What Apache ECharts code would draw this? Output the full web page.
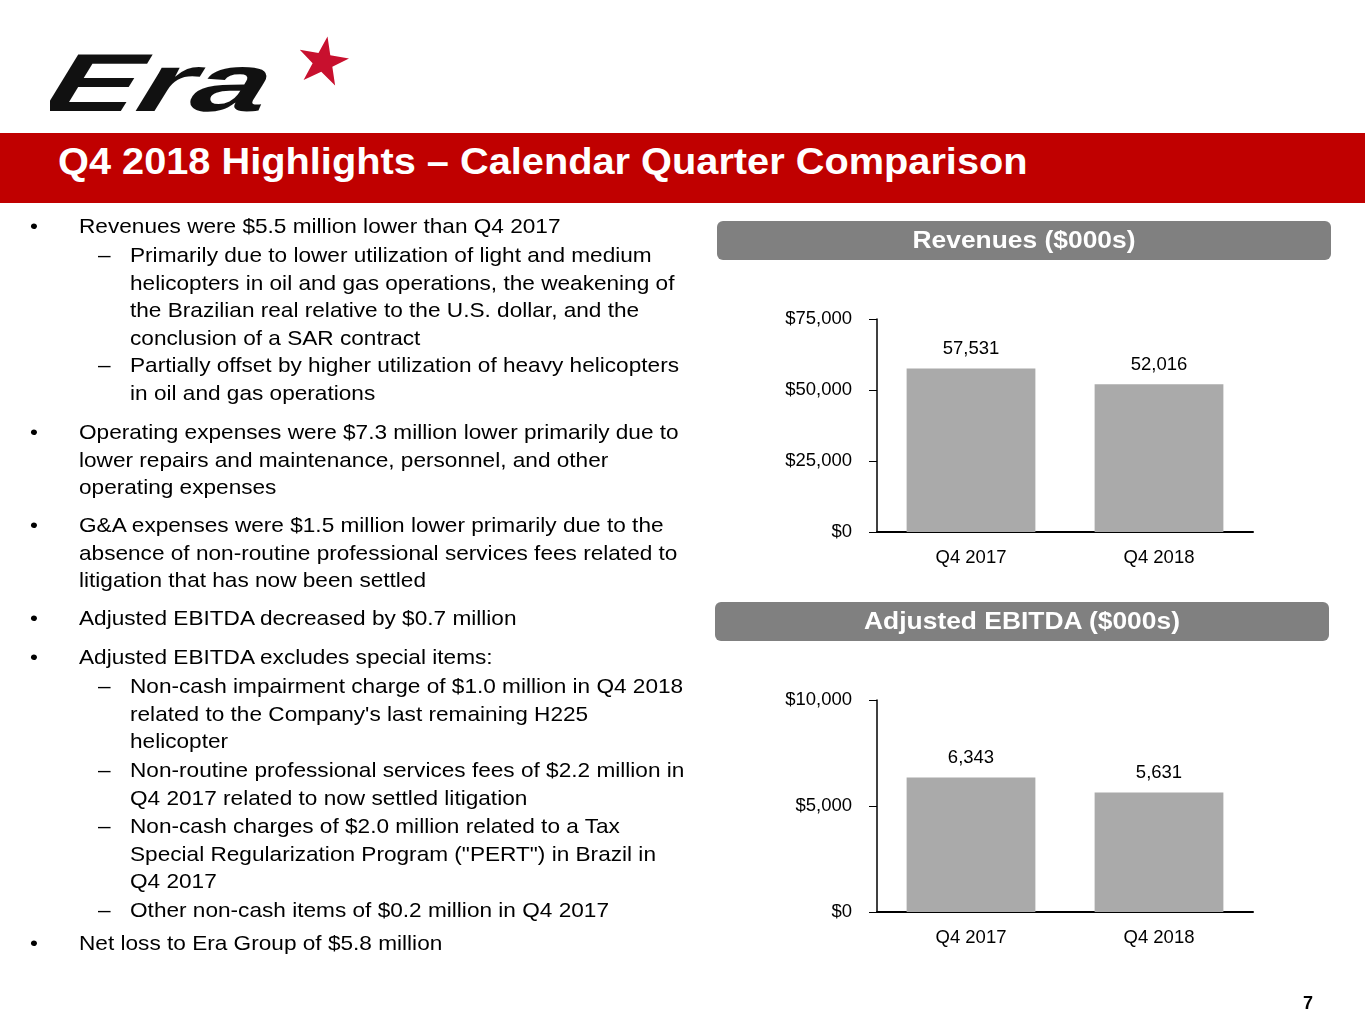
<!DOCTYPE html>
<html>
<head>
<meta charset="utf-8">
<script src="https://cdn.jsdelivr.net/npm/echarts@6/dist/echarts.min.js"></script>
<style>
  html, body { margin:0; padding:0; background:#fff; }
  body { width:1365px; height:1024px; position:relative; overflow:hidden; font-family:"Liberation Sans", Arial, sans-serif; color:#000; }
  #chart { position:absolute; left:0; top:0; width:1365px; height:1024px; }
  .banner { position:absolute; left:0; top:133px; width:1365px; height:70px; background:#C00000; }
  .title { position:absolute; left:58px; top:133px; height:70px; line-height:58px; color:#fff; font-weight:bold; font-size:36px; white-space:nowrap; transform:scaleX(1.104); transform-origin:0 0; }
  .pill { position:absolute; height:39px; background:#808080; border-radius:6px; }
  .pilltxt { position:absolute; left:0; right:0; top:0; color:#fff; font-weight:bold; font-size:24px; text-align:center; line-height:37px; transform:scaleX(1.1); }
  .para { position:absolute; font-size:21px; line-height:27.6px; white-space:nowrap; transform:scaleX(1.077); transform-origin:0 0; }
  .pnum { position:absolute; left:1303px; top:993px; font-weight:bold; font-size:18px; }
  .logo { position:absolute; left:50px; top:25px; }
</style>
</head>
<body>
<div id="chart"></div>

<svg class="logo" width="320" height="100" viewBox="0 0 320 100">
  <text x="16" y="86" font-family="Liberation Sans, Arial" font-style="italic" font-weight="bold" font-size="82" fill="#111" transform="skewX(-16)" textLength="222" lengthAdjust="spacingAndGlyphs">Era</text>
  <polygon fill="#C8102E" transform="translate(273,37) rotate(10)" points="0,-26 6,-8 25,-8 10,3 16,21 0,10 -16,21 -10,3 -25,-8 -6,-8"/>
</svg>

<div class="banner"></div>
<div class="title">Q4 2018 Highlights – Calendar Quarter Comparison</div>

<div class="pill" style="left:717px; top:221px; width:614px;"><div class="pilltxt">Revenues ($000s)</div></div>
<div class="pill" style="left:715px; top:602px; width:614px;"><div class="pilltxt">Adjusted EBITDA ($000s)</div></div>

<div id="text"></div>
<div class="pnum">7</div>

<script>
// ---- Data ----
const categories = ['Q4 2017', 'Q4 2018'];
const revenues = [57531, 52016];
const adjustedEbitda = [6343, 5631];
const revenueTicks = { min: 0, max: 75000, interval: 25000 };
const ebitdaTicks = { min: 0, max: 10000, interval: 5000 };

// ---- Slide text ----
const bullets = [
  { y: 226, kind: 'bul', lines: ['Revenues were $5.5 million lower than Q4 2017'] },
  { y: 255, kind: 'dash', lines: ['Primarily due to lower utilization of light and medium', 'helicopters in oil and gas operations, the weakening of', 'the Brazilian real relative to the U.S. dollar, and the', 'conclusion of a SAR contract'] },
  { y: 365, kind: 'dash', lines: ['Partially offset by higher utilization of heavy helicopters', 'in oil and gas operations'] },
  { y: 432, kind: 'bul', lines: ['Operating expenses were $7.3 million lower primarily due to', 'lower repairs and maintenance, personnel, and other', 'operating expenses'] },
  { y: 525, kind: 'bul', lines: ['G&A expenses were $1.5 million lower primarily due to the', 'absence of non-routine professional services fees related to', 'litigation that has now been settled'] },
  { y: 618, kind: 'bul', lines: ['Adjusted EBITDA decreased by $0.7 million'] },
  { y: 657, kind: 'bul', lines: ['Adjusted EBITDA excludes special items:'] },
  { y: 686, kind: 'dash', lines: ['Non-cash impairment charge of $1.0 million in Q4 2018', "related to the Company's last remaining H225", 'helicopter'] },
  { y: 770, kind: 'dash', lines: ['Non-routine professional services fees of $2.2 million in', 'Q4 2017 related to now settled litigation'] },
  { y: 826, kind: 'dash', lines: ['Non-cash charges of $2.0 million related to a Tax', 'Special Regularization Program ("PERT") in Brazil in', 'Q4 2017'] },
  { y: 910, kind: 'dash', lines: ['Other non-cash items of $0.2 million in Q4 2017'] },
  { y: 943, kind: 'bul', lines: ['Net loss to Era Group of $5.8 million'] }
];
const host = document.getElementById('text');
bullets.forEach(b => {
  const lh = 27.6;
  const top = b.y - lh / 2;
  const marker = document.createElement('div');
  marker.className = 'para';
  marker.style.top = top + 'px';
  marker.style.left = (b.kind === 'bul' ? 30 : 98) + 'px';
  marker.textContent = b.kind === 'bul' ? '•' : '–';
  host.appendChild(marker);
  const p = document.createElement('div');
  p.className = 'para';
  p.style.top = top + 'px';
  p.style.left = (b.kind === 'bul' ? 79 : 130) + 'px';
  b.lines.forEach((l, i) => {
    if (i) p.appendChild(document.createElement('br'));
    p.appendChild(document.createTextNode(l));
  });
  host.appendChild(p);
});

// ---- Charts ----
const fmtNum = v => Number(v).toLocaleString('en-US');
const font = '"Liberation Sans", Arial, sans-serif';
function yAxis(idx, t) {
  return {
    type: 'value', gridIndex: idx, min: t.min, max: t.max, interval: t.interval,
    axisLine: { show: true, lineStyle: { color: '#000', width: 1.5 } },
    axisTick: { show: true, length: 8, lineStyle: { color: '#000', width: 1 } },
    splitLine: { show: false },
    axisLabel: { formatter: v => '$' + fmtNum(v), color: '#000', fontSize: 18.5, fontFamily: font, margin: 25 }
  };
}
function xAxis(idx) {
  return {
    type: 'category', gridIndex: idx, data: categories,
    axisLine: { show: true, lineStyle: { color: '#000', width: 2 } },
    axisTick: { show: false },
    axisLabel: { color: '#000', fontSize: 18.5, fontFamily: font, margin: 16 }
  };
}
function bars(idx, data) {
  return {
    type: 'bar', xAxisIndex: idx, yAxisIndex: idx, data: data, barWidth: '68.5%',
    itemStyle: { color: '#AAAAAA' },
    label: { show: true, position: 'top', distance: 10, color: '#000', fontSize: 18.5, fontFamily: font, formatter: p => fmtNum(p.value) },
    silent: true, animation: false
  };
}
const chart = echarts.init(document.getElementById('chart'), null, { renderer: 'canvas' });
chart.setOption({
  animation: false,
  grid: [
    { left: 877, top: 319, width: 376, height: 213 },
    { left: 877, top: 700, width: 376, height: 212 }
  ],
  xAxis: [xAxis(0), xAxis(1)],
  yAxis: [yAxis(0, revenueTicks), yAxis(1, ebitdaTicks)],
  series: [bars(0, revenues), bars(1, adjustedEbitda)]
});
</script>
</body>
</html>
